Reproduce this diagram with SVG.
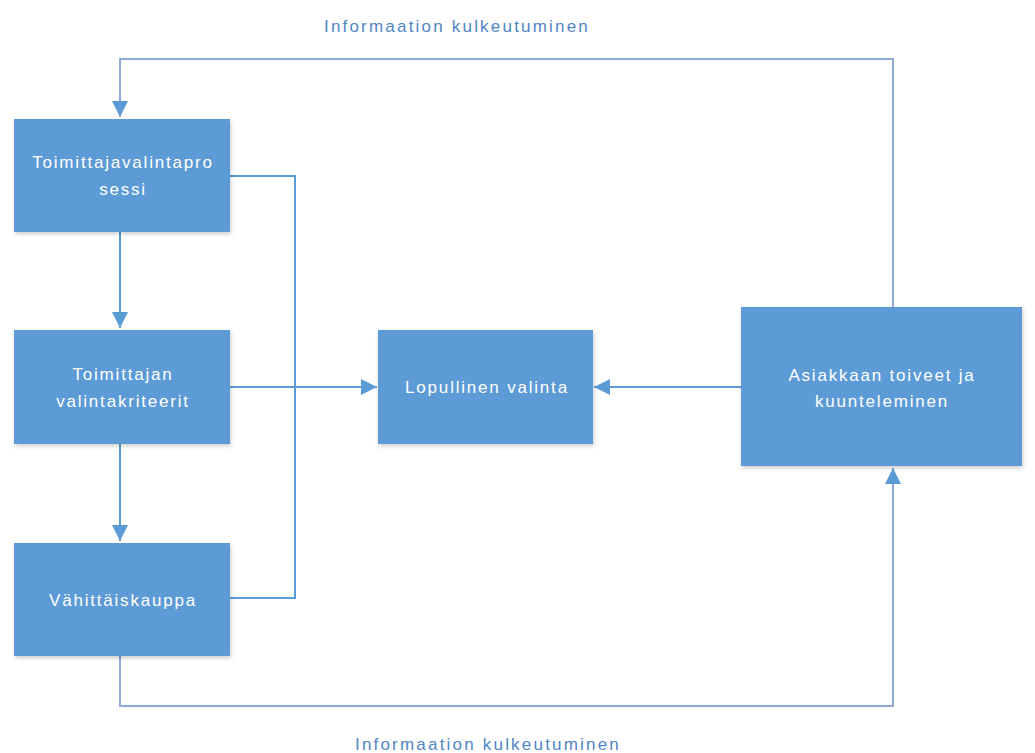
<svg xmlns="http://www.w3.org/2000/svg" width="1035" height="753" viewBox="0 0 1035 753">
<defs>
<marker id="ah" viewBox="0 0 16 16" refX="16" refY="8" markerWidth="16" markerHeight="16" markerUnits="userSpaceOnUse" orient="auto">
<path d="M0,0 L16,8 L0,16 z" fill="#5B9BD5"/>
</marker>
<filter id="sh" x="-10%" y="-10%" width="125%" height="125%">
<feDropShadow dx="1" dy="2" stdDeviation="2" flood-color="#000" flood-opacity="0.2"/>
</filter>
</defs>
<style>
.box{fill:#5B9BD5;filter:url(#sh)}
.t{font-family:"Liberation Sans",Arial,sans-serif;font-size:17px;fill:#ffffff;text-anchor:middle;letter-spacing:1.8px}
.lbl{font-family:"Liberation Sans",Arial,sans-serif;font-size:17px;fill:#4F86C6;text-anchor:middle;letter-spacing:2.2px}
.c{fill:none;stroke:#5B9BD5;stroke-width:2}
.o{fill:none;stroke:#8FA9DA;stroke-width:2}
</style>
<rect width="1035" height="753" fill="#ffffff"/>
<g id="connectors">
<path class="o" d="M893,307 V59 H120 V117" marker-end="url(#ah)"/>
<path class="c" d="M120,232 V328" marker-end="url(#ah)"/>
<path class="c" d="M120,444 V541" marker-end="url(#ah)"/>
<path class="c" d="M230,176 H295 V598 H230"/>
<path class="c" d="M230,387 H377" marker-end="url(#ah)"/>
<path class="c" d="M741,387 H594" marker-end="url(#ah)"/>
<path class="o" d="M120,656 V706 H893 V468" marker-end="url(#ah)"/>
</g>
<g id="label-top"><text class="lbl" x="457" y="32">Informaation kulkeutuminen</text></g>
<g id="label-bottom"><text class="lbl" x="488" y="750">Informaation kulkeutuminen</text></g>
<g id="n1"><rect class="box" x="14" y="119" width="216" height="113"/>
<text class="t" x="123" y="168">Toimittajavalintapro</text><text class="t" x="123" y="195">sessi</text></g>
<g id="n2"><rect class="box" x="14" y="330" width="216" height="114"/>
<text class="t" x="123" y="380">Toimittajan</text><text class="t" x="123" y="407">valintakriteerit</text></g>
<g id="n3"><rect class="box" x="14" y="543" width="216" height="113"/>
<text class="t" x="123" y="606">Vähittäiskauppa</text></g>
<g id="n4"><rect class="box" x="378" y="330" width="215" height="114"/>
<text class="t" x="487" y="393">Lopullinen valinta</text></g>
<g id="n5"><rect class="box" x="741" y="307" width="281" height="159"/>
<text class="t" x="882" y="381">Asiakkaan toiveet ja</text><text class="t" x="882" y="407">kuunteleminen</text></g>
</svg>
